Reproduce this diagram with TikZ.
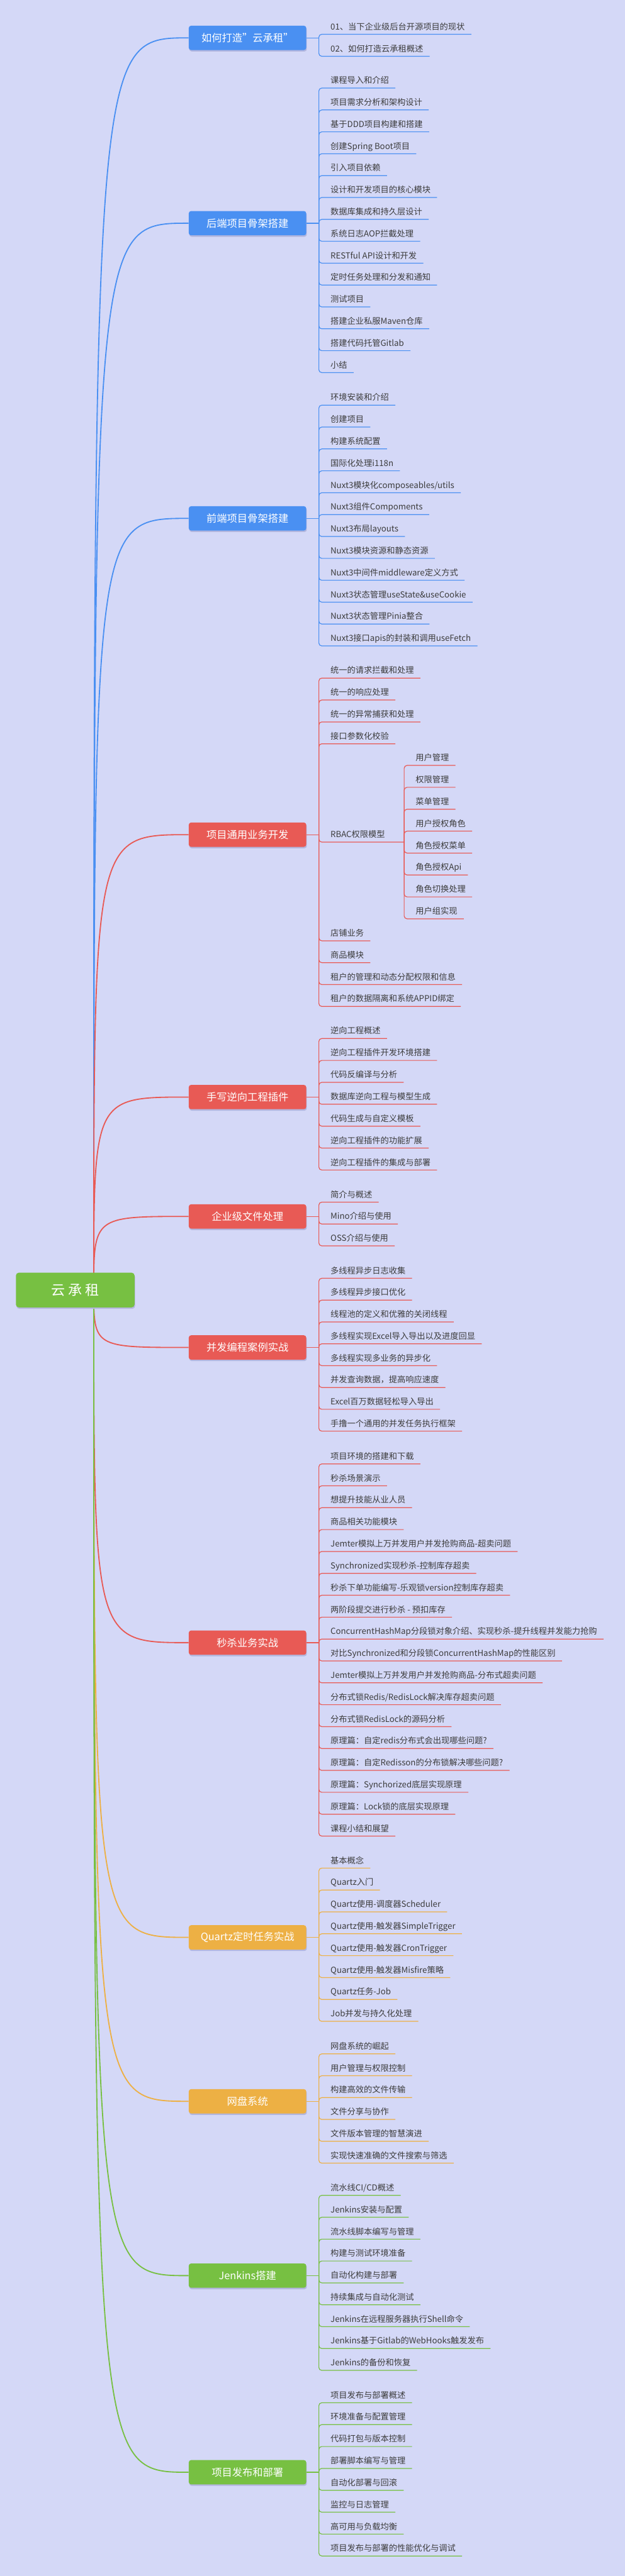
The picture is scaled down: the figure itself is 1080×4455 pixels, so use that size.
\documentclass[tikz,border=0pt]{standalone}
\usepackage{fontspec}
\setmainfont{Noto Sans CJK SC}
\usetikzlibrary{shadows}
\definecolor{bg}{RGB}{212,216,247}
\definecolor{cblue}{RGB}{74,144,242}
\definecolor{cred}{RGB}{232,90,85}
\definecolor{corange}{RGB}{237,176,68}
\definecolor{cgreen}{RGB}{119,192,66}
\definecolor{txt}{RGB}{60,60,60}
\definecolor{shd}{RGB}{178,182,222}
\tikzset{
  leaf/.style={anchor=south west, inner sep=0pt, text depth=7.8pt, text height=11pt,
    font=\fontsize{14.4}{17}\selectfont, text=txt},
  lk/.style={line width=1.3pt, rounded corners=5pt},
  bk/.style={line width=1.5pt},
  rk/.style={line width=2pt},
  branchbox/.style={anchor=west, rounded corners=4pt, minimum width=203pt, minimum height=42pt,
    inner sep=0pt, text=white, font=\fontsize{17.7}{20}\selectfont,
    drop shadow={shadow xshift=1pt, shadow yshift=-2.5pt, fill=shd, opacity=1}},
}
\newcommand\lf[6]{%
  \node[leaf] (#1) at (#2,#3) {\hspace*{20pt}#4\hspace*{11pt}};
  \draw[lk,#6] (#5) |- (#1.south east);
}
\begin{document}
\begin{tikzpicture}[x=1pt,y=-1pt]
\fill[bg] (0,0) rectangle (1080,4455);
\useasboundingbox (0,0) rectangle (1080,4455);

% root start
\coordinate (rs) at (162,2231);

% branches
\node[branchbox, fill=cblue] (b1) at (326,65.5) {如何打造"云承租"};
\node[branchbox, fill=cblue] (b2) at (326,386) {后端项目骨架搭建};
\node[branchbox, fill=cblue] (b3) at (326,896.5) {前端项目骨架搭建};
\node[branchbox, fill=cred] (b4) at (326,1443.5) {项目通用业务开发};
\node[branchbox, fill=cred] (b5) at (326,1897.3) {手写逆向工程插件};
\node[branchbox, fill=cred] (b6) at (326,2103.7) {企业级文件处理};
\node[branchbox, fill=cred] (b7) at (326,2330.3) {并发编程案例实战};
\node[branchbox, fill=cred] (b8) at (326,2840.8) {秒杀业务实战};
\node[branchbox, fill=corange] (b9) at (326,3350.5) {Quartz定时任务实战};
\node[branchbox, fill=corange] (b10) at (326,3634) {网盘系统};
\node[branchbox, fill=cgreen] (b11) at (326,3935.5) {Jenkins搭建};
\node[branchbox, fill=cgreen] (b12) at (326,4275.5) {项目发布和部署};

% root curves
\foreach \b/\c in {b1/cblue,b2/cblue,b3/cblue,b4/cred,b5/cred,b6/cred,b7/cred,b8/cred,b9/corange,b10/corange,b11/cgreen,b12/cgreen}{
  \draw[rk,\c] (rs) .. controls (rs |- \b.west) .. (\b.west);
}

% root
\node[anchor=center, fill=cgreen, rounded corners=5pt, minimum width=205pt, minimum height=60pt,
  text=white, font=\fontsize{24}{28}\selectfont,
  drop shadow={shadow xshift=1pt, shadow yshift=-2.5pt, fill=shd, opacity=1}] (root) at (130,2231) {云\ 承\ 租};

% junctions
\foreach \b in {1,...,12}{
  \coordinate (j\b) at (551,0 |- b\b.east);
}
\foreach \b/\c in {1/cblue,2/cblue,3/cblue,4/cred,5/cred,6/cred,7/cred,8/cred,9/corange,10/corange,11/cgreen,12/cgreen}{
  \draw[bk,\c] (b\b.east) -- (j\b);
}

% B1
\lf{l1-0}{551}{59.3}{01、当下企业级后台开源项目的现状}{j1}{cblue}
\lf{l1-1}{551}{97.3}{02、如何打造云承租概述}{j1}{cblue}

% B2
\foreach \t [count=\i from 0] in {{课程导入和介绍},{项目需求分析和架构设计},{基于DDD项目构建和搭建},{创建Spring Boot项目},{引入项目依赖},{设计和开发项目的核心模块},{数据库集成和持久层设计},{系统日志AOP拦截处理},{RESTful API设计和开发},{定时任务处理和分发和通知},{测试项目},{搭建企业私服Maven仓库},{搭建代码托管Gitlab},{小结}}{
  \pgfmathsetmacro\yy{152.3+\i*37.85}
  \lf{l2-\i}{551}{\yy}{\t}{j2}{cblue}
}

% B3
\foreach \t [count=\i from 0] in {{环境安装和介绍},{创建项目},{构建系统配置},{国际化处理i118n},{Nuxt3模块化composeables/utils},{Nuxt3组件Compoments},{Nuxt3布局layouts},{Nuxt3模块资源和静态资源},{Nuxt3中间件middleware定义方式},{Nuxt3状态管理useState\&useCookie},{Nuxt3状态管理Pinia整合},{Nuxt3接口apis的封装和调用useFetch}}{
  \pgfmathsetmacro\yy{700.7+\i*37.85}
  \lf{l3-\i}{551}{\yy}{\t}{j3}{cblue}
}

% B4
\foreach \t/\y [count=\i from 0] in {{统一的请求拦截和处理}/1172.7,{统一的响应处理}/1210.6,{统一的异常捕获和处理}/1248.5,{接口参数化校验}/1286.3,{店铺业务}/1627,{商品模块}/1664.8,{租户的管理和动态分配权限和信息}/1702.7,{租户的数据隔离和系统APPID绑定}/1740.5}{
  \lf{l4-\i}{551}{\y}{\t}{j4}{cred}
}
\node[leaf] (l4r) at (551,1456.3) {\makebox[147pt][l]{\hspace*{20pt}RBAC权限模型}};
\draw[lk,cred] (j4) |- (l4r.south east);
\foreach \t [count=\i from 0] in {{用户管理},{权限管理},{菜单管理},{用户授权角色},{角色授权菜单},{角色授权Api},{角色切换处理},{用户组实现}}{
  \pgfmathsetmacro\yy{1323.7+\i*37.9}
  \lf{l4s-\i}{698}{\yy}{\t}{l4r.south east}{cred}
}

% B5
\foreach \t [count=\i from 0] in {{逆向工程概述},{逆向工程插件开发环境搭建},{代码反编译与分析},{数据库逆向工程与模型生成},{代码生成与自定义模板},{逆向工程插件的功能扩展},{逆向工程插件的集成与部署}}{
  \pgfmathsetmacro\yy{1796+\i*37.9}
  \lf{l5-\i}{551}{\yy}{\t}{j5}{cred}
}

% B6
\foreach \t [count=\i from 0] in {{简介与概述},{Mino介绍与使用},{OSS介绍与使用}}{
  \pgfmathsetmacro\yy{2079+\i*37.8}
  \lf{l6-\i}{551}{\yy}{\t}{j6}{cred}
}

% B7
\foreach \t [count=\i from 0] in {{多线程异步日志收集},{多线程异步接口优化},{线程池的定义和优雅的关闭线程},{多线程实现Excel导入导出以及进度回显},{多线程实现多业务的异步化},{并发查询数据，提高响应速度},{Excel百万数据轻松导入导出},{手撸一个通用的并发任务执行框架}}{
  \pgfmathsetmacro\yy{2210.7+\i*37.76}
  \lf{l7-\i}{551}{\yy}{\t}{j7}{cred}
}

% B8
\foreach \t [count=\i from 0] in {{项目环境的搭建和下载},{秒杀场景演示},{想提升技能从业人员},{商品相关功能模块},{Jemter模拟上万并发用户并发抢购商品-超卖问题},{Synchronized实现秒杀-控制库存超卖},{秒杀下单功能编写-乐观锁version控制库存超卖},{两阶段提交进行秒杀 - 预扣库存},{ConcurrentHashMap分段锁对象介绍、实现秒杀-提升线程并发能力抢购},{对比Synchronized和分段锁ConcurrentHashMap的性能区别},{Jemter模拟上万并发用户并发抢购商品-分布式超卖问题},{分布式锁Redis/RedisLock解决库存超卖问题},{分布式锁RedisLock的源码分析},{原理篇：自定redis分布式会出现哪些问题?},{原理篇：自定Redisson的分布锁解决哪些问题?},{原理篇：Synchorized底层实现原理},{原理篇：Lock锁的底层实现原理},{课程小结和展望}}{
  \pgfmathsetmacro\yy{2531.7+\i*37.86}
  \lf{l8-\i}{551}{\yy}{\t}{j8}{cred}
}

% B9
\foreach \t [count=\i from 0] in {{基本概念},{Quartz入门},{Quartz使用-调度器Scheduler},{Quartz使用-触发器SimpleTrigger},{Quartz使用-触发器CronTrigger},{Quartz使用-触发器Misfire策略},{Quartz任务-Job},{Job并发与持久化处理}}{
  \pgfmathsetmacro\yy{3230.7+\i*37.86}
  \lf{l9-\i}{551}{\yy}{\t}{j9}{corange}
}

% B10
\foreach \t [count=\i from 0] in {{网盘系统的崛起},{用户管理与权限控制},{构建高效的文件传输},{文件分享与协作},{文件版本管理的智慧演进},{实现快速准确的文件搜索与筛选}}{
  \pgfmathsetmacro\yy{3552+\i*37.8}
  \lf{l10-\i}{551}{\yy}{\t}{j10}{corange}
}

% B11
\foreach \t [count=\i from 0] in {{流水线CI/CD概述},{Jenkins安装与配置},{流水线脚本编写与管理},{构建与测试环境准备},{自动化构建与部署},{持续集成与自动化测试},{Jenkins在远程服务器执行Shell命令},{Jenkins基于Gitlab的WebHooks触发发布},{Jenkins的备份和恢复}}{
  \pgfmathsetmacro\yy{3796.7+\i*37.83}
  \lf{l11-\i}{551}{\yy}{\t}{j11}{cgreen}
}

% B12
\foreach \t [count=\i from 0] in {{项目发布与部署概述},{环境准备与配置管理},{代码打包与版本控制},{部署脚本编写与管理},{自动化部署与回滚},{监控与日志管理},{高可用与负载均衡},{项目发布与部署的性能优化与调试}}{
  \pgfmathsetmacro\yy{4155.3+\i*37.86}
  \lf{l12-\i}{551}{\yy}{\t}{j12}{cgreen}
}
\end{tikzpicture}
\end{document}
